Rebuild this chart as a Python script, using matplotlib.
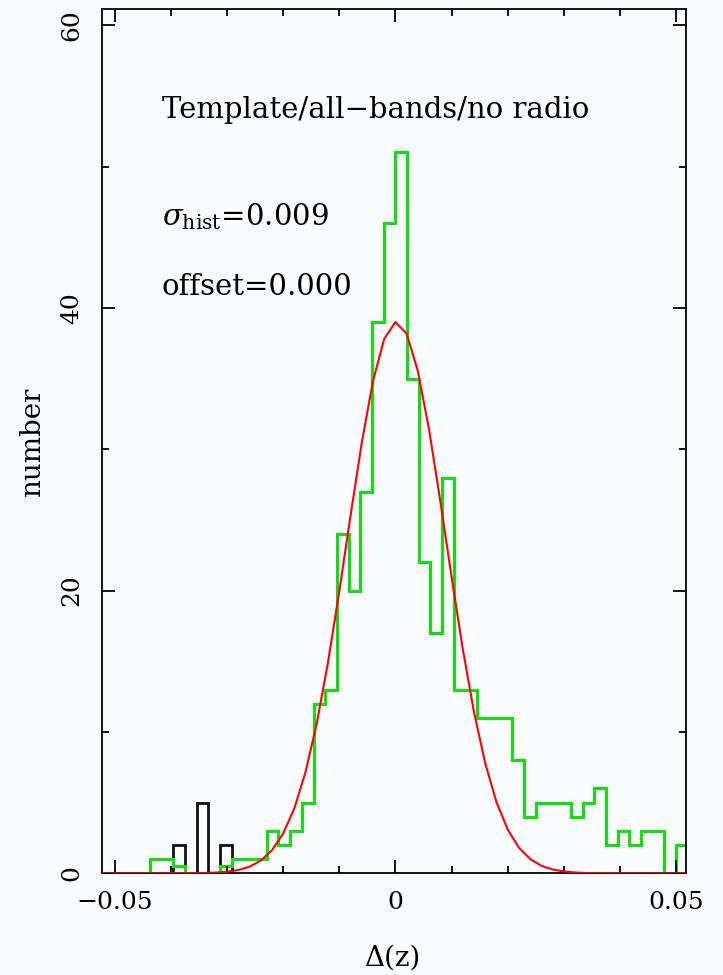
import matplotlib

matplotlib.use("Agg")
import matplotlib.pyplot as plt
import numpy as np
from matplotlib.ticker import MultipleLocator

plt.rcParams["font.family"] = ["DejaVu Serif"]
plt.rcParams["mathtext.fontset"] = "dejavuserif"

# Bin width (48 bins per 0.1 in dz), edges are multiples of it.
bin_w = 0.1 / 48
green_first_bin = -21
green_counts = [1, 1, 0.5, 0, 0, 0, 0.5, 1, 1, 1, 3, 2, 3, 5,
                12, 13, 24, 20, 27, 39, 46, 51, 35, 22, 17, 28, 13, 13,
                11, 11, 11, 8, 4, 5, 5, 5, 4, 5, 6, 2, 3, 2, 3, 3, 0, 2]
black_first_bin = -19
black_counts = [2, 0, 5, 0, 2]

# Fitted gaussian, read at 0.002 steps.
fit_x = [-0.054, -0.034, -0.032, -0.030, -0.028, -0.026, -0.024, -0.022, -0.020,
         -0.018, -0.016, -0.014, -0.012, -0.010, -0.008, -0.006, -0.004, -0.002,
         0.000, 0.002, 0.004, 0.006, 0.008, 0.010, 0.012, 0.014, 0.016, 0.018,
         0.020, 0.022, 0.024, 0.026, 0.028, 0.030, 0.032, 0.034, 0.054]
fit_y = [0, 0.02, 0.05, 0.11, 0.23, 0.46, 0.89, 1.62, 2.80,
         4.59, 7.16, 10.61, 14.92, 19.92, 25.27, 30.43, 34.80, 37.80,
         39.0, 38.19, 35.53, 31.39, 26.33, 20.98, 15.87, 11.40, 7.78, 5.04,
         3.10, 1.81, 1.01, 0.53, 0.27, 0.13, 0.06, 0.02, 0]

label_text = "Template/all\u2212bands/no radio"
sigma_text = r"$\sigma_{\rm hist}$=0.009"
offset_text = "offset=0.000"

green_edges = (green_first_bin + np.arange(len(green_counts) + 1)) * bin_w
black_edges = (black_first_bin + np.arange(len(black_counts) + 1)) * bin_w

bg = "#f9fdff"
fs = 20
fig = plt.figure(figsize=(7.23, 9.75), dpi=100, facecolor=bg)
ax = fig.add_axes([0.1407, 0.1043, 0.8085, 0.8865], facecolor=bg)

ax.stairs(black_counts, black_edges, color="#111111", lw=2)
ax.stairs(green_counts, green_edges, color="#11dd11", lw=2.2)
ax.plot(fit_x, fit_y, color="#ff0000", lw=1.5, zorder=3)

ax.set_xlim(-0.0523, 0.0518)
ax.set_ylim(0, 61.15)

ax.xaxis.set_major_locator(MultipleLocator(0.05))
ax.xaxis.set_minor_locator(MultipleLocator(0.01))
ax.yaxis.set_major_locator(MultipleLocator(20))
ax.yaxis.set_minor_locator(MultipleLocator(10))
ax.tick_params(which="both", direction="in", top=True, right=True, width=1.3,
               labelsize=18, colors="black")
ax.tick_params(which="major", length=9.5, pad=13)
ax.tick_params(which="minor", length=5)
ax.set_xticks([-0.05, 0, 0.05])
ax.set_xticklabels(["\u22120.05", "0", "0.05"])
for lab in ax.get_yticklabels():
    lab.set_rotation(90)
    lab.set_va("center")
for sp in ax.spines.values():
    sp.set_linewidth(1.3)

fig.text(0.5436, 0.0174, "\u0394(z)", fontsize=fs, ha="center", va="center")
fig.text(0.0443, 0.5467, "number", fontsize=fs, ha="center", va="center",
         rotation=90)

ax.text(0.103, 0.8735, label_text, transform=ax.transAxes, fontsize=21,
        va="baseline")
ax.text(0.103, 0.7493, sigma_text, transform=ax.transAxes, fontsize=21,
        va="baseline")
ax.text(0.103, 0.669, offset_text, transform=ax.transAxes, fontsize=21,
        va="baseline")

fig.savefig("out.png", dpi=100, facecolor=bg)
